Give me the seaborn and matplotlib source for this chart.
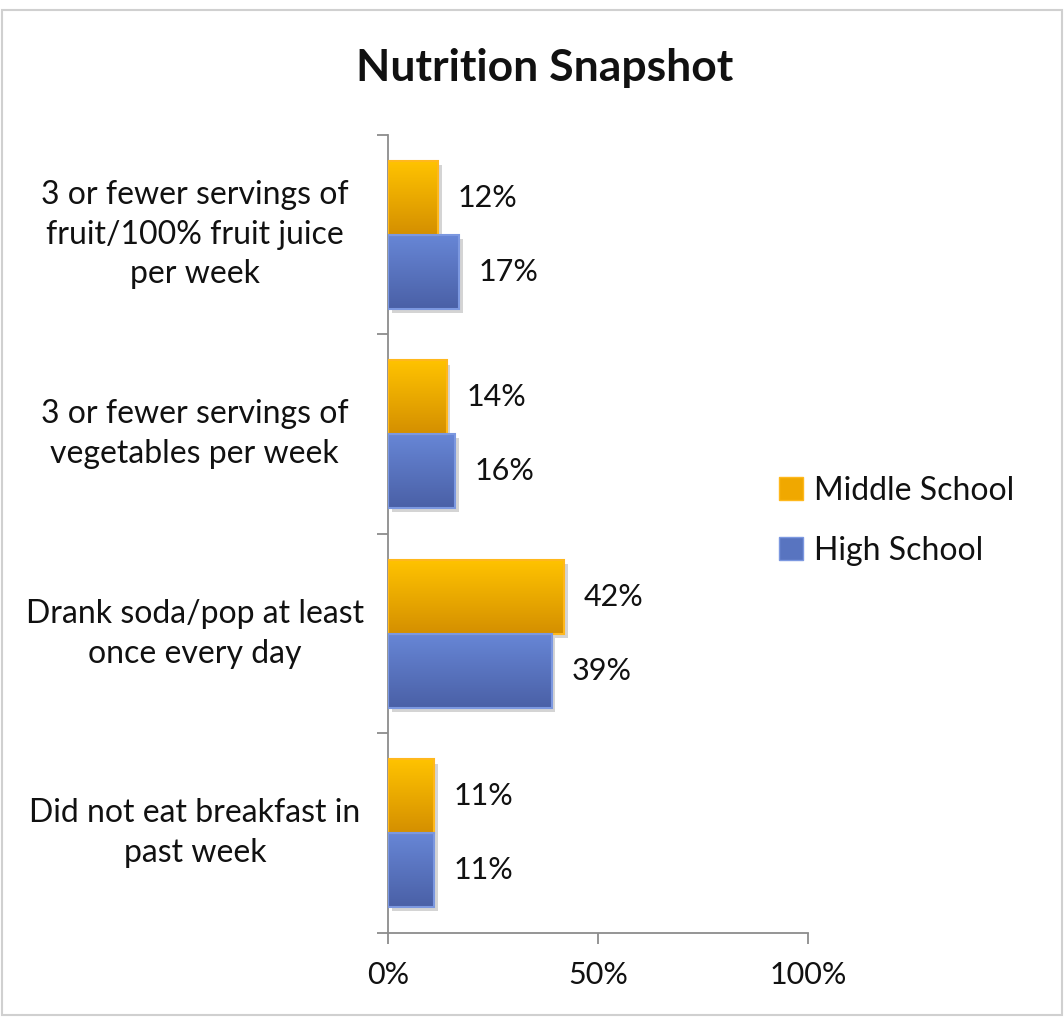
import numpy as np
import pandas as pd
import seaborn as sns
import matplotlib.pyplot as plt
import matplotlib.patheffects as pe
from matplotlib.colors import LinearSegmentedColormap
from matplotlib.ticker import PercentFormatter, FixedLocator
from matplotlib.patches import Rectangle, Patch

categories = ["3 or fewer servings of\nfruit/100% fruit juice\nper week",
              "3 or fewer servings of\nvegetables per week",
              "Drank soda/pop at least\nonce every day",
              "Did not eat breakfast in\npast week"]
groups = ["Middle School", "High School"]
middle_school = [0.12, 0.14, 0.42, 0.11]
high_school = [0.17, 0.16, 0.39, 0.11]
x_ticks = [0, 0.5, 1.0]

df = pd.DataFrame({
    "category": categories * 2,
    "group": [groups[0]] * 4 + [groups[1]] * 4,
    "value": middle_school + high_school,
})

sns.set_theme(style="white")
plt.rcParams['font.family'] = ['Lato', 'DejaVu Sans']
txt_col = "#111111"
fs = 23

# top/bottom of the gradient fill for each series
grad_cols = {groups[0]: ("#FFC300", "#D48F00"), groups[1]: ("#6786D6", "#4A60A6")}
edge_cols = {groups[0]: "#FFB81C", groups[1]: "#7C98E0"}
flat_cols = {groups[0]: "#F0A800", groups[1]: "#5874C0"}

fig = plt.figure(figsize=(10.64, 10.17), dpi=100)
ax = fig.add_axes([0.3647, 0.0826, 0.3947, 0.7847])

sns.barplot(data=df, x="value", y="category", hue="group", orient="h",
            palette=flat_cols, width=0.74, ax=ax, legend=False)

ax.set_xlim(0, 1.0)
ylim = ax.get_ylim()
for grp, cont in zip(groups, ax.containers):
    top, bot = grad_cols[grp]
    cmap = LinearSegmentedColormap.from_list(grp, [top, bot])
    for bar in cont:
        x0, y0, w, h = bar.get_x(), bar.get_y(), bar.get_width(), bar.get_height()
        # bar itself only carries the drop shadow
        bar.set_facecolor("none")
        bar.set_edgecolor("none")
        bar.set_zorder(2)
        bar.set_path_effects([pe.SimplePatchShadow(offset=(2.5, -3), shadow_rgbFace="#555555", alpha=0.25)])
        img = ax.imshow(np.linspace(0, 1, 256).reshape(-1, 1), cmap=cmap,
                        extent=(x0, x0 + w, y0 + h, y0), origin="upper",
                        aspect="auto", zorder=2.5)
        img.set_clip_path(bar)
        ax.add_patch(Rectangle((x0, y0), w, h, fill=False, edgecolor=edge_cols[grp],
                               linewidth=1.5, zorder=3))
    ax.bar_label(cont, labels=[f"{v * 100:.0f}%" for v in cont.datavalues],
                 padding=14, fontsize=fs - 1, color=txt_col)
ax.set_ylim(ylim)
ax.set_xlim(0, 1.0)

# axes styling
sns.despine(ax=ax)
for s in ["left", "bottom"]:
    ax.spines[s].set_color("#8C8C8C")
    ax.spines[s].set_linewidth(1.3)
ax.xaxis.set_major_locator(FixedLocator(x_ticks))
ax.xaxis.set_major_formatter(PercentFormatter(1.0, decimals=0))
ax.tick_params(axis="x", direction="out", length=8, width=1.3, color="#8C8C8C",
               labelsize=fs - 1, labelcolor=txt_col, pad=12, bottom=True)
ax.set_yticks(np.arange(-0.5, len(categories), 1.0))
ax.set_yticklabels([])
ax.tick_params(axis="y", direction="out", length=8, width=1.3, color="#8C8C8C", left=True)
ax.set_xlabel("")
ax.set_ylabel("")

for i, cat in enumerate(categories):
    ax.text(-0.46, i, cat, transform=ax.get_yaxis_transform(), ha="center", va="center",
            multialignment="center", fontsize=fs, linespacing=1.4, color=txt_col)

handles = [Patch(facecolor=flat_cols[g], edgecolor=edge_cols[g]) for g in groups]
fig.legend(handles, groups, loc="center left", bbox_to_anchor=(0.705, 0.488),
           frameon=False, fontsize=fs, handlelength=0.75, handleheight=0.75,
           handletextpad=0.35, labelspacing=0.95, labelcolor=txt_col)

fig.text(0.512, 0.933, "Nutrition Snapshot", ha="center", va="center",
         fontsize=32, fontweight="bold", color=txt_col)

fig.patches.append(Rectangle((0.002, 0.002), 0.996, 0.988, transform=fig.transFigure,
                             fill=False, edgecolor="#D0D0D0", linewidth=1.5))

fig.savefig("out.png", dpi=100)
